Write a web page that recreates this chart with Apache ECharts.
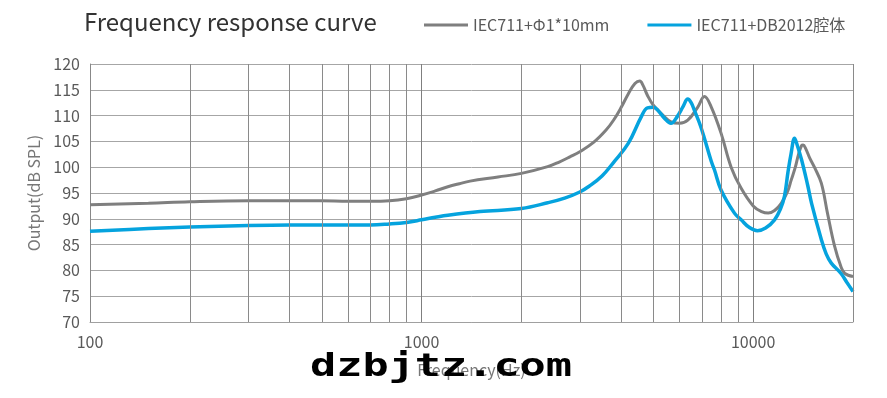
<!DOCTYPE html>
<html><head><meta charset="utf-8">
<script src="https://cdn.jsdelivr.net/npm/echarts@6/dist/echarts.min.js"></script>
<style>html,body{margin:0;padding:0;background:#fff}#c{width:887px;height:398px}</style>
</head><body><div id="c"></div>
<script>
const titleText = 'Frequency response curve';
const seriesNames = ['IEC711+Φ1*10mm', 'IEC711+DB2012腔体'];
const xTickLabels = ['100', '1000', '10000'];
const minorGridFreqs = [200,300,400,500,600,700,800,900,2000,3000,4000,5000,6000,7000,8000,9000,20000];

const grayFreq = [100,150,200,300,400,500,600,700,800,900,1000,1100,1200,1300,1400,1700,2000,2400,2600,2800,3000,3300,3600,3800,4000,4200,4400,4550,4650,4800,5000,5300,5650,6000,6350,6800,7130,7470,8000,8580,9200,10000,10600,11100,11600,12150,12700,13020,13400,13700,14000,14150,14400,14800,15300,16050,16750,17600,18400,18900,20000];
const grayVal  = [92.7,93.0,93.3,93.5,93.5,93.5,93.4,93.4,93.5,93.9,94.6,95.4,96.2,96.8,97.3,98.1,98.8,100.1,101.0,102.0,103.0,104.8,107.2,109.2,111.6,114.2,116.2,116.7,115.9,113.9,112.0,110.3,108.8,108.5,109.1,111.6,113.7,111.7,106.6,100.0,95.9,92.5,91.4,91.1,91.6,93.0,95.3,97.5,100.0,102.5,104.2,104.3,103.6,101.8,100.0,96.9,91.1,84.7,80.7,79.4,78.8];

const blueFreq = [100,150,200,300,400,500,600,700,800,900,1000,1100,1200,1500,2000,2400,2700,3000,3200,3500,3800,4200,4600,4800,5000,5150,5400,5650,5900,6150,6350,6500,6650,6970,7470,7640,8000,8780,9200,9700,10300,10900,11600,12100,12430,12730,13000,13330,13500,14000,14600,15000,16050,16600,17200,18400,19200,20000];
const blueVal  = [87.6,88.1,88.4,88.7,88.8,88.8,88.8,88.8,89.0,89.3,89.8,90.3,90.7,91.4,92.0,93.1,94.0,95.2,96.3,98.3,101.0,104.6,109.8,111.5,111.6,111.1,109.5,108.5,109.8,111.8,113.2,112.5,111.0,107.6,101.2,99.5,95.6,91.1,89.8,88.4,87.7,88.2,89.8,92.0,94.4,99.0,102.5,105.6,104.8,101.4,96.5,93.0,86.0,83.2,81.4,79.4,77.6,75.9];

const pair = (xs, ys) => xs.map((x, i) => [x, ys[i]]);

const chart = echarts.init(document.getElementById('c'), null, {renderer: 'canvas'});
const FONT = '"Noto Sans CJK SC", "Noto Sans", sans-serif';
chart.setOption({
  animation: false,
  backgroundColor: '#fff',
  title: {
    text: titleText, left: 79, top: 5,
    textStyle: {fontFamily: FONT, fontSize: 24, fontWeight: 'normal', color: '#333'}
  },
  legend: {
    left: 419, top: 12, icon: 'rect', itemWidth: 44, itemHeight: 3, itemGap: 38,
    textStyle: {fontFamily: FONT, fontSize: 16, color: '#595959'},
    data: seriesNames
  },
  grid: {left: 90, right: 34, top: 64, bottom: 76, containLabel: false},
  xAxis: {
    type: 'log', logBase: 10, min: 100, max: 20000,
    name: 'Frequency(Hz)', nameLocation: 'middle', nameGap: 40,
    nameTextStyle: {fontFamily: FONT, fontSize: 16, color: '#777'},
    axisLine: {show: true, lineStyle: {color: '#a0a0a0', width: 1}},
    axisTick: {show: false},
    axisLabel: {
      fontFamily: FONT, fontSize: 16, color: '#595959', margin: 12,
      formatter: v => { const l = Math.log10(v); const r = Math.round(l); return Math.abs(l - r) < 1e-6 && xTickLabels.includes(String(Math.pow(10, r))) ? String(Math.pow(10, r)) : ''; }
    },
    splitLine: {show: true, lineStyle: {color: '#7f7f7f', width: 1}},
    minorTick: {show: false}
  },
  yAxis: {
    type: 'value', min: 70, max: 120, interval: 5,
    name: 'Output(dB SPL)', nameLocation: 'middle', nameGap: 48, nameRotate: 90,
    nameTextStyle: {fontFamily: FONT, fontSize: 16, color: '#777'},
    axisLine: {show: true, lineStyle: {color: '#888', width: 1}},
    axisTick: {show: false},
    axisLabel: {fontFamily: FONT, fontSize: 16, color: '#595959', margin: 10},
    splitLine: {show: true, lineStyle: {color: '#a6a6a6', width: 1}}
  },
  graphic: [{
    type: 'text', left: 310, top: 352, z: 100,
    style: {text: 'dzbjtz.com', fill: '#000', font: 'bold 32px "DejaVu Sans Mono", monospace'},
    scaleX: 1.36
  }],
  series: [
    {
      type: 'line', name: '__grid', data: [], z: 1, silent: true,
      markLine: {
        silent: true, symbol: ['none', 'none'], animation: false,
        label: {show: false},
        lineStyle: {color: '#8a8a8a', width: 1, type: 'solid'},
        emphasis: {disabled: true},
        data: minorGridFreqs.map(f => ({xAxis: f}))
      }
    },
    {
      type: 'line', name: seriesNames[0], data: pair(grayFreq, grayVal), z: 3,
      showSymbol: false, smooth: 0.4, color: '#7f7f7f',
      lineStyle: {color: '#7f7f7f', width: 3}
    },
    {
      type: 'line', name: seriesNames[1], data: pair(blueFreq, blueVal), z: 4,
      showSymbol: false, smooth: 0.4, color: '#05a3de',
      lineStyle: {color: '#05a3de', width: 3.5}
    }
  ]
});
</script></body></html>
